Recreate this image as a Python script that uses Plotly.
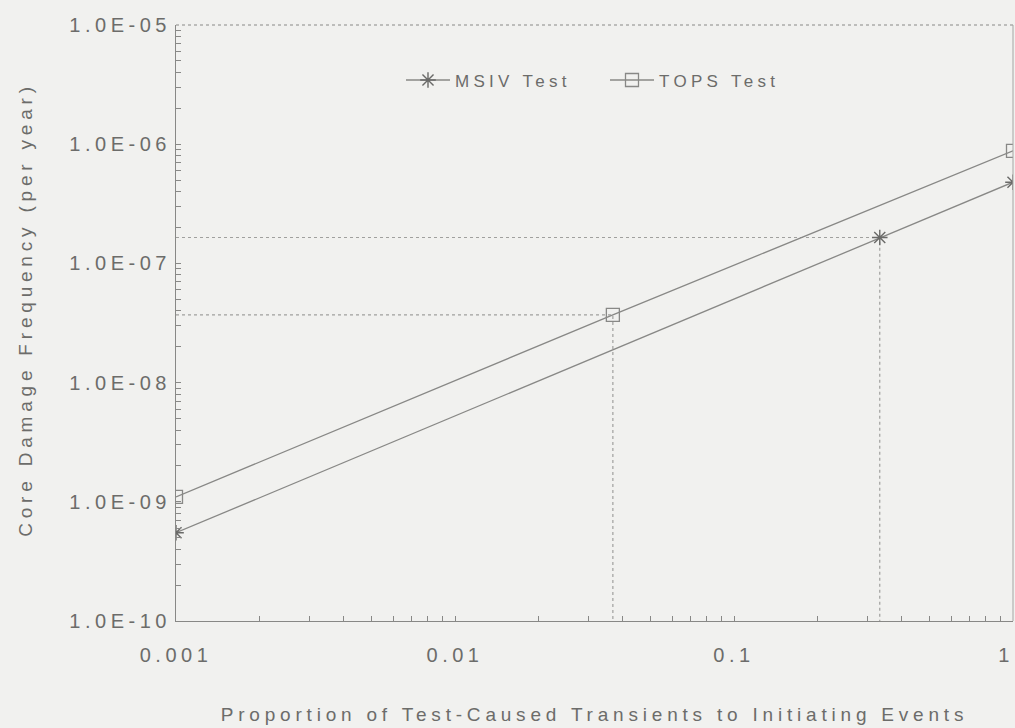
import plotly.graph_objects as go

# ---- data ----
msiv_x = [0.001, 0.333, 1.0]
msiv_y = [5.5e-10, 1.65e-7, 4.8e-7]
tops_x = [0.001, 0.0368, 1.0]
tops_y = [1.1e-9, 3.7e-8, 8.8e-7]

msiv_mark = (0.333, 1.65e-7)   # highlighted MSIV point
tops_mark = (0.0368, 3.7e-8)   # highlighted TOPS point

y_tickvals = [1e-10, 1e-9, 1e-8, 1e-7, 1e-6, 1e-5]
y_ticktext = ["1.0E-10", "1.0E-09", "1.0E-08", "1.0E-07", "1.0E-06", "1.0E-05"]
x_tickvals = [0.001, 0.01, 0.1, 1]
x_ticktext = ["0.001", "0.01", "0.1", "1"]

x_min, y_min = 0.001, 1e-10

INK = "#888886"
TXT = "#6c6c6a"
BG = "#f1f1ef"
FONT = "Liberation Sans, Arial, sans-serif"

fig = go.Figure()

# dotted guide lines to the highlighted points
for (px, py) in (tops_mark, msiv_mark):
    fig.add_trace(go.Scatter(x=[x_min, px, px], y=[py, py, y_min], mode="lines",
                             line=dict(color="#a0a09e", width=1.2, dash="dot"),
                             showlegend=False, hoverinfo="skip"))

fig.add_trace(go.Scatter(x=msiv_x, y=msiv_y, mode="lines+markers", name="MSIV Test",
                         line=dict(color=INK, width=1.3),
                         marker=dict(symbol="asterisk-open", size=13, color="#6a6a68",
                                     line=dict(color="#6a6a68", width=1.4))))
fig.add_trace(go.Scatter(x=tops_x, y=tops_y, mode="lines+markers", name="TOPS Test",
                         line=dict(color=INK, width=1.3),
                         marker=dict(symbol="square-open", size=13, color=INK,
                                     line=dict(color=INK, width=1.3))))

minor_y = [m * 10.0 ** e for e in range(-10, -5) for m in range(2, 10)]
minor_x = [m * 10.0 ** e for e in range(-3, 0) for m in range(2, 10)]

fig.update_xaxes(type="log", range=[-3, 0], tickmode="array", tickvals=x_tickvals,
                 ticktext=x_ticktext, ticks="inside", ticklen=5, tickcolor=INK,
                 showline=True, linecolor=INK, linewidth=1.2, showgrid=False, zeroline=False,
                 tickfont=dict(family=FONT, size=20, color=TXT), ticklabelstandoff=16,
                 ticklabeloverflow="allow",
                 minor=dict(tickmode="array", tickvals=minor_x, ticks="inside", ticklen=5,
                            tickcolor=INK, showgrid=False),
                 title=dict(text="Proportion of Test-Caused Transients to Initiating Events",
                            font=dict(family=FONT, size=19, color=TXT), standoff=42))
fig.update_yaxes(type="log", range=[-10, -5], tickmode="array", tickvals=y_tickvals,
                 ticktext=y_ticktext, ticks="inside", ticklen=5, tickcolor=INK,
                 showline=True, linecolor=INK, linewidth=1.2, showgrid=False, zeroline=False,
                 tickfont=dict(family=FONT, size=20, color=TXT), ticklabelstandoff=0,
                 minor=dict(tickmode="array", tickvals=minor_y, ticks="inside", ticklen=5,
                            tickcolor=INK, showgrid=False))

# y-axis title placed as a rotated annotation
fig.add_annotation(text="Core Damage Frequency (per year)", xref="paper", yref="paper",
                   x=(25 - 176) / 837, y=(621 - 310) / 596, xanchor="center", yanchor="middle",
                   textangle=-90, showarrow=False,
                   font=dict(family=FONT, size=19, color=TXT))

# top (dotted) and right frame lines
fig.add_shape(type="line", xref="paper", yref="paper", x0=0, x1=1, y0=1, y1=1,
              line=dict(color="#8a8a88", width=1.2, dash="dot"))
fig.add_shape(type="line", xref="paper", yref="paper", x0=1, x1=1, y0=0, y1=1,
              line=dict(color="#a5a5a3", width=1))

fig.update_layout(
    width=1015, height=728,
    margin=dict(l=176, r=2, t=25, b=107, autoexpand=False),
    paper_bgcolor=BG, plot_bgcolor=BG,
    font=dict(family=FONT, color=TXT),
    legend=dict(orientation="h", yanchor="middle", y=0.907, xanchor="left",
                x=(401 - 176) / 837, bgcolor="rgba(0,0,0,0)",
                font=dict(family=FONT, size=17, color=TXT),
                itemwidth=44, entrywidth=145, entrywidthmode="pixels"),
)

post = """
document.body.style.margin = '0';
var css = document.createElement('style');
css.textContent =
  '.xtick text, .ytick text { letter-spacing: 4.5px !important; }' +
  '.g-xtitle text, .annotation-text { letter-spacing: 4.8px !important; }' +
  '.legendtext { letter-spacing: 4.3px !important; }';
document.head.appendChild(css);
var gd = document.getElementById('{plot_id}');
function nudge() {
  gd.querySelectorAll('.xtick text').forEach(function (t) {
    if (t.textContent === '1' && t.getAttribute('dx') !== '-7') { t.setAttribute('dx', '-7'); }
  });
}
nudge();
new MutationObserver(nudge).observe(gd, {childList: true, subtree: true});
"""

fig.write_html("out.html", post_script=post, config={"displayModeBar": False})
